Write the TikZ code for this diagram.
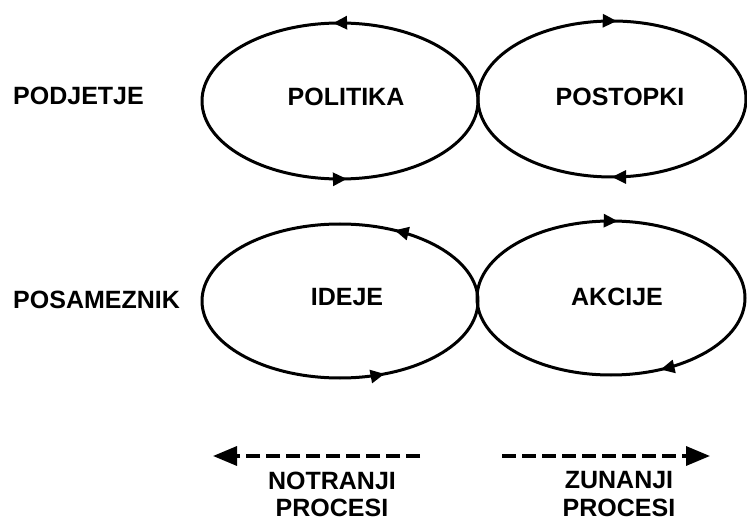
\documentclass[tikz,border=0pt]{standalone}
\usepackage{fontspec}
\setmainfont{Liberation Sans}
\usetikzlibrary{arrows.meta,decorations.markings}
\begin{document}
\begin{tikzpicture}[x=1pt,y=1pt,
  tri/.tip={Triangle[length=14pt,width=13pt]},
  lbl/.style={font=\fontsize{25}{28}\selectfont\bfseries, inner sep=0pt},
  % closed loop with two direction marks along its outline
  ccw/.style 2 args={line width=3pt,
    decoration={markings,
      mark=at position #1 with {\arrow{tri}},
      mark=at position #2 with {\arrow{tri}}},
    postaction={decorate}},
  cw/.style 2 args={line width=3pt,
    decoration={markings,
      mark=at position #1 with {\arrowreversed{tri}},
      mark=at position #2 with {\arrowreversed{tri}}},
    postaction={decorate}},
  flow/.style={line width=3.4pt, dash pattern=on 14pt off 6pt,
    -{Triangle[length=24pt,width=19pt]}}]
\useasboundingbox (0,0) rectangle (747,520);

% loop centres
\coordinate (cPol) at (340,419);
\coordinate (cPos) at (612,421);
\coordinate (cIde) at (340,219);
\coordinate (cAkc) at (611,222);

% loops
\draw[ccw={0.26}{0.76}] (cPol) ellipse [x radius=138pt, y radius=78pt];
\draw[cw={0.243}{0.75}] (cPos) ellipse [x radius=134pt, y radius=78pt];
\draw[ccw={0.17}{0.815}] (cIde) ellipse [x radius=138pt, y radius=77pt];
\draw[cw={0.24}{0.824}] (cAkc) ellipse [x radius=134pt, y radius=77pt];

% loop labels
\node[lbl] (politika) at (346,423) {POLITIKA};
\node[lbl] (postopki) at (620,423) {POSTOPKI};
\node[lbl] (ideje)    at (347,223) {IDEJE};
\node[lbl] (akcije)   at (617,223) {AKCIJE};

% row labels
\node[lbl, anchor=west] (podjetje)   at (13,424) {PODJETJE};
\node[lbl, anchor=west] (posameznik) at (13,220) {POSAMEZNIK};

% direction arrows
\coordinate (inStart)  at (420,64);
\coordinate (inEnd)    at (213,64);
\coordinate (outStart) at (502,64);
\coordinate (outEnd)   at (710,64);
\draw[flow] (inStart) -- (inEnd);
\draw[flow] (outStart) -- (outEnd);

\node[lbl] (notranji) at (332,39.5) {NOTRANJI};
\node[lbl] (procesiN) at (332,12.5) {PROCESI};
\node[lbl] (zunanji)  at (619,39.5) {ZUNANJI};
\node[lbl] (procesiZ) at (619,12.5) {PROCESI};
\end{tikzpicture}
\end{document}
